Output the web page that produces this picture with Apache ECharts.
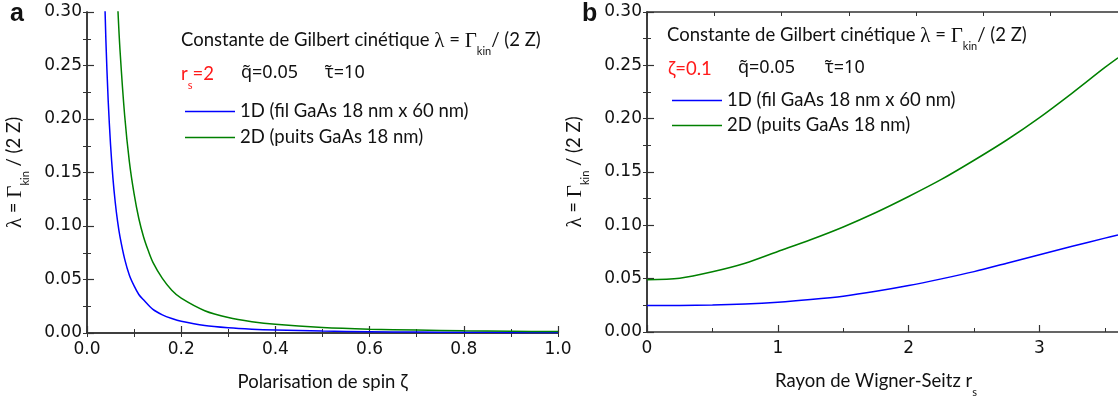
<!DOCTYPE html>
<html>
<head>
<meta charset="utf-8">
<script src="https://cdn.jsdelivr.net/npm/echarts@6/dist/echarts.min.js"></script>
<style>
  html, body { margin: 0; padding: 0; background: #fff; }
  #chart { width: 1118px; height: 403px; }
</style>
</head>
<body>
<div id="chart"></div>
<script>
// panneau a : lambda en fonction de zeta (rs = 2)
const zetaA1D = [0.035, 0.04, 0.045, 0.05, 0.055, 0.06, 0.065, 0.07, 0.08, 0.09, 0.10, 0.11, 0.12, 0.14, 0.16, 0.18, 0.20, 0.25, 0.30, 0.35, 0.40, 0.50, 0.60, 0.70, 0.80, 0.90, 1.00];
const lambdaA1D = [0.359, 0.275, 0.217, 0.176, 0.145, 0.122, 0.104, 0.090, 0.069, 0.054, 0.044, 0.036, 0.031, 0.022, 0.017, 0.0136, 0.011, 0.007, 0.0049, 0.0036, 0.0028, 0.0018, 0.0012, 0.0009, 0.0007, 0.0005, 0.0004];
const zetaA2D = [0.06, 0.065, 0.07, 0.08, 0.09, 0.10, 0.11, 0.12, 0.13, 0.14, 0.16, 0.18, 0.20, 0.25, 0.30, 0.35, 0.40, 0.50, 0.60, 0.70, 0.80, 0.90, 1.00];
const lambdaA2D = [0.361, 0.308, 0.265, 0.203, 0.160, 0.130, 0.107, 0.090, 0.077, 0.066, 0.051, 0.040, 0.0325, 0.0208, 0.0144, 0.0106, 0.0081, 0.0052, 0.0036, 0.0027, 0.0020, 0.0016, 0.0013];

// panneau b : lambda en fonction de rs (zeta = 0.1)
const rsB = [0, 0.25, 0.5, 0.75, 1, 1.25, 1.5, 1.75, 2, 2.25, 2.5, 2.75, 3, 3.25, 3.5, 3.6];
const lambdaB1D = [0.0248, 0.0249, 0.0253, 0.0263, 0.028, 0.0305, 0.0336, 0.0381, 0.0435, 0.0498, 0.0566, 0.0645, 0.0725, 0.0803, 0.088, 0.091];
const lambdaB2D = [0.049, 0.0505, 0.0565, 0.0645, 0.0755, 0.0865, 0.0985, 0.112, 0.127, 0.143, 0.161, 0.180, 0.201, 0.224, 0.248, 0.257];

const name1D = '1D (fil GaAs 18 nm x 60 nm)';
const name2D = '2D (puits GaAs 18 nm)';

const textFont = 'Lato, "Noto Sans", sans-serif';
const numFont = '"DejaVu Sans", sans-serif';
const axisCol = '#333';
const blue = '#0000ff';
const green = '#008000';
const red = '#ff1a1a';
const ink = '#111';
const fs = 18.5;

const pairs = (xs, ys) => xs.map((x, i) => [x, ys[i]]);

// un style de fragment (color pour les axes, fill pour graphic)
function tok(family, size, col, sub) {
  const st = { fontFamily: family, fontSize: size, color: col, fill: col, verticalAlign: 'top' };
  if (sub) { st.lineHeight = 12; st.padding = [15, 0, 0, 0]; } else { st.lineHeight = 22; }
  return st;
}
const rich = {
  t: tok(textFont, fs, ink),
  g: tok('"Liberation Serif", serif', 21, ink),
  s: tok(textFont, 11, ink, true),
  r: tok(textFont, fs, red),
  rs: tok(textFont, 11, red, true),
  q: tok('"Noto Sans", sans-serif', 18, ink)
};

function yMain(gi) {
  return {
    type: 'value', gridIndex: gi, position: 'left', min: 0, max: 0.3, interval: 0.05,
    axisLine: { show: true, lineStyle: { color: axisCol, width: 1.5 } },
    axisTick: { inside: true, length: 7, lineStyle: { color: axisCol, width: 1.2 } },
    minorTick: { show: true, splitNumber: 2, length: 4, lineStyle: { color: axisCol, width: 1 } },
    splitLine: { show: false },
    axisLabel: { formatter: v => v.toFixed(2), fontFamily: numFont, fontSize: 17, color: ink, margin: 5 },
    name: '{g|λ}{t| = }{g|Γ}{s|kin}{t| / (2 Z)}',
    nameLocation: 'middle', nameRotate: 90, nameGap: 60,
    nameTextStyle: { rich: rich }
  };
}
function yMirror(gi) {
  return {
    type: 'value', gridIndex: gi, position: 'right', min: 0, max: 0.3, interval: 0.025,
    axisLine: { show: true, lineStyle: { color: axisCol, width: 1.5 } },
    axisTick: { inside: true, length: 4, lineStyle: { color: axisCol, width: 1 } },
    axisLabel: { show: false }, splitLine: { show: false }
  };
}
function xTop(gi, max, step) {
  return {
    type: 'value', gridIndex: gi, position: 'top', min: 0, max: max, interval: step,
    axisLine: { show: true, lineStyle: { color: axisCol, width: 1.5 } },
    axisTick: { inside: true, length: 4, lineStyle: { color: axisCol, width: 1 } },
    axisLabel: { show: false }, splitLine: { show: false }
  };
}
function lineSeries(name, xi, data, color) {
  return {
    name: name, type: 'line', xAxisIndex: xi, yAxisIndex: xi, data: data,
    showSymbol: false, symbol: 'none', smooth: 0.3,
    lineStyle: { color: color, width: 1.5 }, itemStyle: { color: color }
  };
}
function label(x, y, text) {
  return { type: 'text', x: x, y: y, style: { text: text, rich: rich } };
}

const title = '{t|Constante de Gilbert cinétique }{g|λ}{t| = }{g|Γ}{s|kin}{t|/ (2 Z)}';

const chart = echarts.init(document.getElementById('chart'));
chart.setOption({
  animation: false,
  backgroundColor: '#fff',
  grid: [
    { left: 87, top: 12, width: 471, height: 321 },
    { left: 647, top: 12, width: 471, height: 321 }
  ],
  xAxis: [
    {
      type: 'value', gridIndex: 0, position: 'bottom', min: 0, max: 1, interval: 0.2,
      axisLine: { show: true, lineStyle: { color: axisCol, width: 1.5 } },
      axisTick: { inside: true, length: 7, lineStyle: { color: axisCol, width: 1.2 } },
      minorTick: { show: true, splitNumber: 2, length: 4, lineStyle: { color: axisCol, width: 1 } },
      splitLine: { show: false },
      axisLabel: { formatter: v => v.toFixed(1), fontFamily: numFont, fontSize: 17, color: ink, margin: 8 },
      name: 'Polarisation de spin ζ', nameLocation: 'middle', nameGap: 40,
      nameTextStyle: { fontFamily: textFont, fontSize: fs, color: ink }
    },
    xTop(0, 1, 0.1),
    {
      type: 'value', gridIndex: 1, position: 'bottom', min: 0, max: 3.6, interval: 1,
      axisLine: { show: true, lineStyle: { color: axisCol, width: 1.5 } },
      axisTick: { inside: true, length: 7, lineStyle: { color: axisCol, width: 1.2 } },
      splitLine: { show: false },
      axisLabel: { showMaxLabel: false, fontFamily: numFont, fontSize: 17, color: ink, margin: 8 },
      name: '{t|Rayon de Wigner-Seitz r}{s|s}', nameLocation: 'middle', nameGap: 40,
      nameTextStyle: { rich: rich, padding: [0, 13, 0, 0] }
    },
    {
      // petites graduations du panneau b
      type: 'value', gridIndex: 1, position: 'bottom', min: 0, max: 3.6, interval: 0.5,
      axisLine: { show: false },
      axisTick: { inside: true, length: 4, lineStyle: { color: axisCol, width: 1 } },
      axisLabel: { show: false }, splitLine: { show: false }
    },
    xTop(1, 3.5, 0.5)
  ],
  yAxis: [yMain(0), yMirror(0), yMain(1), yMirror(1)],
  legend: [
    {
      data: [name1D, name2D], orient: 'vertical', left: 180, top: 97,
      icon: 'rect', itemWidth: 50, itemHeight: 1.5, itemGap: 7, selectedMode: false,
      textStyle: { fontFamily: textFont, fontSize: fs, color: ink }
    },
    {
      data: [name1D, name2D], orient: 'vertical', left: 667, top: 86,
      icon: 'rect', itemWidth: 50, itemHeight: 1.5, itemGap: 6, selectedMode: false,
      textStyle: { fontFamily: textFont, fontSize: fs, color: ink }
    }
  ],
  graphic: [
    { type: 'text', left: 10, top: 2, style: { text: 'a', font: 'bold 25px "Liberation Sans", sans-serif', fill: ink } },
    { type: 'text', left: 582, top: 2, style: { text: 'b', font: 'bold 25px "Liberation Sans", sans-serif', fill: ink } },
    label(181, 31, title),
    label(181, 65, '{r|r}{rs|s}{r|=2}'),
    label(241, 64, '{q|q\u0303=0.05}'),
    label(325, 64, '{q|τ\u0303=10}'),
    label(667, 26, title),
    label(668, 60, '{r|ζ=0.1}'),
    label(738, 59, '{q|q\u0303=0.05}'),
    label(825, 59, '{q|τ\u0303=10}')
  ],
  series: [
    lineSeries(name1D, 0, pairs(zetaA1D, lambdaA1D), blue),
    lineSeries(name2D, 0, pairs(zetaA2D, lambdaA2D), green),
    lineSeries(name1D, 2, pairs(rsB, lambdaB1D), blue),
    lineSeries(name2D, 2, pairs(rsB, lambdaB2D), green)
  ]
});
</script>
</body>
</html>
